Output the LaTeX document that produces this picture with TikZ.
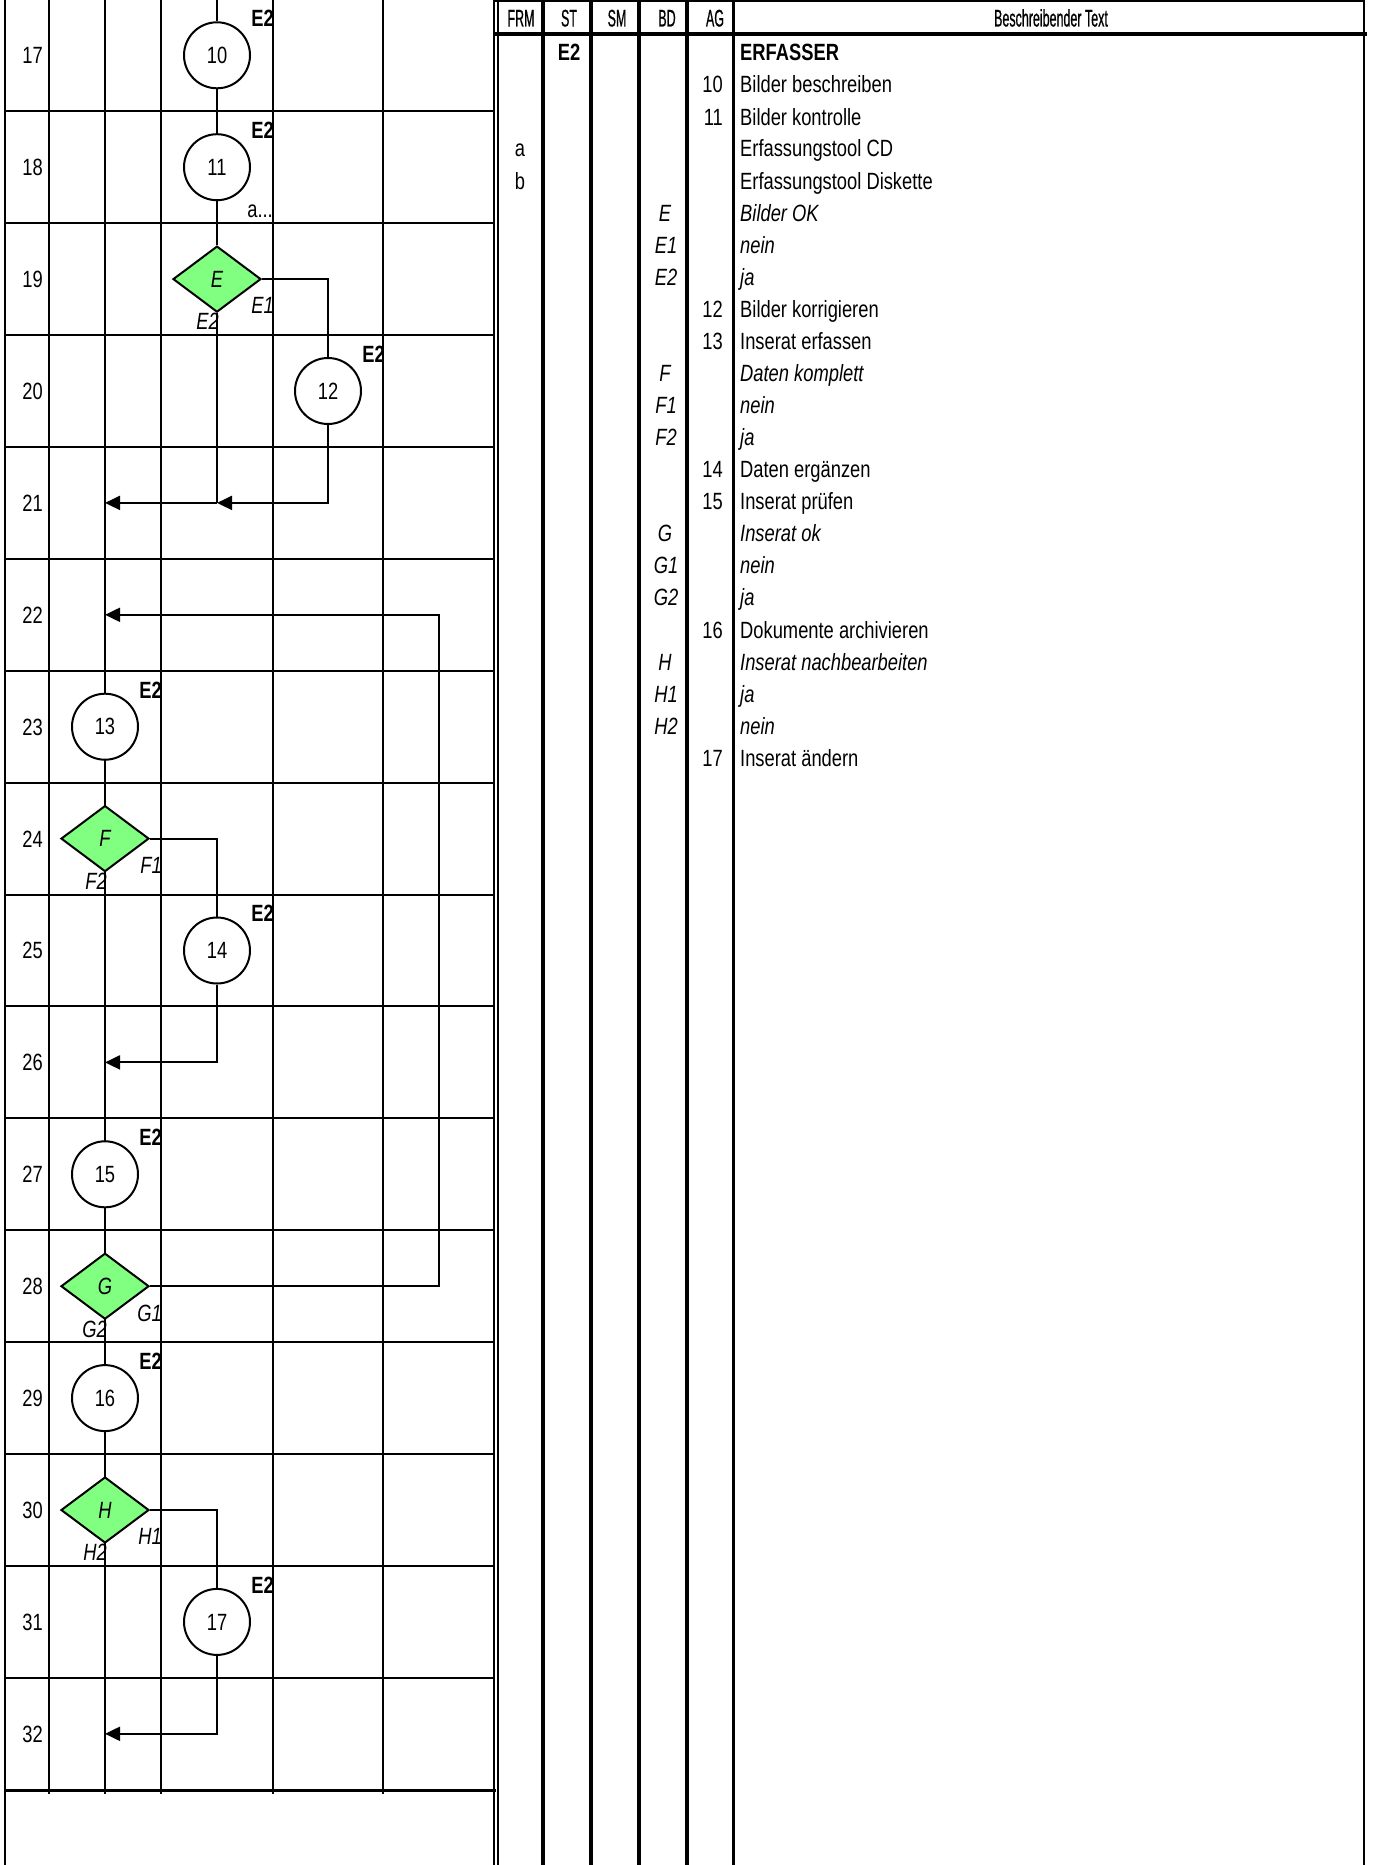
\documentclass[tikz,border=0pt]{standalone}
\usepackage{fontspec}
\usetikzlibrary{shapes.geometric,arrows.meta}
\newfontfamily\nf{Liberation Sans}[FakeStretch=0.78]
\newfontfamily\hf{Liberation Sans}[FakeStretch=0.52,FakeBold=0.6]
\newcommand\fsz{\fontsize{23.5}{28}\selectfont}
\definecolor{dgreen}{HTML}{80FF80}
\tikzset{
  grid/.style={line width=2pt, black},
  flow/.style={line width=2pt, black},
  arr/.style={flow, -{Triangle[length=15pt,width=14pt]}},
  lbl/.style={inner sep=0pt, text height=16.8pt, text depth=0pt, font=\nf\fsz},
  ilbl/.style={lbl, font=\nf\fsz\itshape},
  blbl/.style={lbl, font=\nf\fsz\bfseries},
  hdr/.style={inner sep=0pt, text height=17pt, text depth=0pt, font=\hf\fontsize{24}{28}\selectfont},
  proc/.style={circle, draw, line width=2pt, fill=white, minimum size=66pt, inner sep=0pt, font=\nf\fsz},
  dec/.style={diamond, draw, line width=2pt, fill=dgreen, minimum width=88pt, minimum height=66pt, inner sep=0pt, font=\nf\fsz\itshape},
}
\begin{document}
\begin{tikzpicture}[x=1pt,y=-1pt]
\useasboundingbox (0,0) rectangle (1375,1865);
% ---------- left grid ----------
\foreach \x in {49,105,161,273,383} \draw[grid] (\x,0) -- (\x,1794);
\draw[grid] (5,0) -- (5,1865);
\draw[grid] (494,0) -- (494,1865);
\foreach \j in {1,...,15} {
  \pgfmathsetmacro\yy{111.9*\j-0.7}
  \draw[grid] (5,\yy) -- (494,\yy);
}
\draw[line width=3pt] (5,1790) -- (496,1790);
% row numbers
\foreach \k in {17,...,32} {
  \pgfmathsetmacro\yy{111.9*(\k-17)+55.3}
  \node[lbl, anchor=east] (r\k) at (43,\yy) {\k};
}
% ---------- right table ----------
\draw[line width=1.5pt] (494,1) -- (1364,1);
\draw[line width=3.5pt] (494,34) -- (1367,34);
\draw[line width=2pt] (498,0) -- (498,1865);
\foreach \x in {543,591,639,687} \draw[line width=4.5pt] (\x,0) -- (\x,1865);
\draw[line width=3pt] (733,0) -- (733,1865);
\draw[line width=2pt] (1364,0) -- (1364,1865);
\node[hdr] (hFRM) at (521,18) {FRM};
\node[hdr] (hST) at (569,18) {ST};
\node[hdr] (hSM) at (617,18) {SM};
\node[hdr] (hBD) at (667,18) {BD};
\node[hdr] (hAG) at (715,18) {AG};
\node[hdr] (hTX) at (1051,18) {Beschreibender Text};
% body rows
\node[blbl] (st0) at (569,52.4) {E2};
\node[blbl, anchor=west] (t00) at (740,52.4) {ERFASSER};
\node[lbl, anchor=east] (a01) at (723,84.5) {10};
\node[lbl, anchor=west] (t01) at (740,84.5) {Bilder beschreiben};
\node[lbl, anchor=east] (a02) at (723,116.6) {11};
\node[lbl, anchor=west] (t02) at (740,116.6) {Bilder kontrolle};
\node[lbl] (f03) at (520,148.6) {a};
\node[lbl, anchor=west] (t03) at (740,148.6) {Erfassungstool CD};
\node[lbl] (f04) at (520,180.7) {b};
\node[lbl, anchor=west] (t04) at (740,180.7) {Erfassungstool Diskette};
\node[ilbl] (b05) at (665,212.7) {E};
\node[ilbl, anchor=west] (t05) at (740,212.7) {Bilder OK};
\node[ilbl] (b06) at (666,244.8) {E1};
\node[ilbl, anchor=west] (t06) at (740,244.8) {nein};
\node[ilbl] (b07) at (666,276.9) {E2};
\node[ilbl, anchor=west] (t07) at (740,276.9) {ja};
\node[lbl, anchor=east] (a08) at (723,308.9) {12};
\node[lbl, anchor=west] (t08) at (740,308.9) {Bilder korrigieren};
\node[lbl, anchor=east] (a09) at (723,341.0) {13};
\node[lbl, anchor=west] (t09) at (740,341.0) {Inserat erfassen};
\node[ilbl] (b10) at (665,373.1) {F};
\node[ilbl, anchor=west] (t10) at (740,373.1) {Daten komplett};
\node[ilbl] (b11) at (666,405.1) {F1};
\node[ilbl, anchor=west] (t11) at (740,405.1) {nein};
\node[ilbl] (b12) at (666,437.2) {F2};
\node[ilbl, anchor=west] (t12) at (740,437.2) {ja};
\node[lbl, anchor=east] (a13) at (723,469.3) {14};
\node[lbl, anchor=west] (t13) at (740,469.3) {Daten ergänzen};
\node[lbl, anchor=east] (a14) at (723,501.3) {15};
\node[lbl, anchor=west] (t14) at (740,501.3) {Inserat prüfen};
\node[ilbl] (b15) at (665,533.4) {G};
\node[ilbl, anchor=west] (t15) at (740,533.4) {Inserat ok};
\node[ilbl] (b16) at (666,565.5) {G1};
\node[ilbl, anchor=west] (t16) at (740,565.5) {nein};
\node[ilbl] (b17) at (666,597.5) {G2};
\node[ilbl, anchor=west] (t17) at (740,597.5) {ja};
\node[lbl, anchor=east] (a18) at (723,629.6) {16};
\node[lbl, anchor=west] (t18) at (740,629.6) {Dokumente archivieren};
\node[ilbl] (b19) at (665,661.6) {H};
\node[ilbl, anchor=west] (t19) at (740,661.6) {Inserat nachbearbeiten};
\node[ilbl] (b20) at (666,693.7) {H1};
\node[ilbl, anchor=west] (t20) at (740,693.7) {ja};
\node[ilbl] (b21) at (666,725.8) {H2};
\node[ilbl, anchor=west] (t21) at (740,725.8) {nein};
\node[lbl, anchor=east] (a22) at (723,757.8) {17};
\node[lbl, anchor=west] (t22) at (740,757.8) {Inserat ändern};
% ---------- flow nodes ----------
\node[proc] (c10) at (217,55.3) {10};
\node[proc] (c11) at (217,167.2) {11};
\node[dec]  (dE)  at (217,279.1) {E};
\node[proc] (c12) at (328,391.0) {12};
\node[proc] (c13) at (105,726.7) {13};
\node[dec]  (dF)  at (105,838.6) {F};
\node[proc] (c14) at (217,950.5) {14};
\node[proc] (c15) at (105,1174.3) {15};
\node[dec]  (dG)  at (105,1286.2) {G};
\node[proc] (c16) at (105,1398.1) {16};
\node[dec]  (dH)  at (105,1510.0) {H};
\node[proc] (c17) at (217,1621.9) {17};
% labels at the flow nodes
\node[blbl, anchor=east] (e10) at (274,18.3) {E2};
\node[blbl, anchor=east] (e11) at (274,130.2) {E2};
\node[lbl, anchor=east] (a11) at (273,208.6) {a...};
\node[blbl, anchor=east] (e12) at (385,354.0) {E2};
\node[blbl, anchor=east] (e13) at (162,689.7) {E2};
\node[blbl, anchor=east] (e14) at (274,913.5) {E2};
\node[blbl, anchor=east] (e15) at (162,1137.3) {E2};
\node[blbl, anchor=east] (e16) at (162,1361.1) {E2};
\node[blbl, anchor=east] (e17) at (274,1584.9) {E2};
\node[ilbl, anchor=east] (yE) at (274,305.0) {E1};
\node[ilbl, anchor=east] (nE) at (219,321.0) {E2};
\node[ilbl, anchor=east] (yF) at (162,865.0) {F1};
\node[ilbl, anchor=east] (nF) at (107,881.0) {F2};
\node[ilbl, anchor=east] (yG) at (162,1312.6) {G1};
\node[ilbl, anchor=east] (nG) at (107,1328.6) {G2};
\node[ilbl, anchor=east] (yH) at (162,1536.4) {H1};
\node[ilbl, anchor=east] (nH) at (107,1552.4) {H2};
% ---------- connectors ----------
\coordinate (top)  at (217,0);
\coordinate (j21a) at (217,502.9);
\coordinate (j21b) at (105,502.9);
\coordinate (j22)  at (105,614.8);
\coordinate (g28)  at (439,1286.2);
\coordinate (j26)  at (105,1062.4);
\coordinate (j32)  at (105,1733.8);
\coordinate (bot)  at (105,1790);
\draw[flow] (top) -- (c10);
\draw[flow] (c10) -- (c11);
\draw[flow] (c11) -- (dE);
\draw[flow] (dE.east) -| (c12.north);
\draw[flow] (dE.south) -- (j21a);
\draw[arr] (c12.south) |- (j21a);
\draw[arr] (j21a) -- (j21b);
\draw[arr] (dG.east) -- (g28) |- (j22);
\draw[flow] (j21b) -- (c13);
\draw[flow] (c13) -- (dF);
\draw[flow] (dF.east) -| (c14.north);
\draw[arr] (c14.south) |- (j26);
\draw[flow] (dF.south) -- (c15);
\draw[flow] (c15) -- (dG);
\draw[flow] (dG.south) -- (c16);
\draw[flow] (c16) -- (dH);
\draw[flow] (dH.east) -| (c17.north);
\draw[arr] (c17.south) |- (j32);
\draw[flow] (dH.south) -- (bot);
\end{tikzpicture}
\end{document}
